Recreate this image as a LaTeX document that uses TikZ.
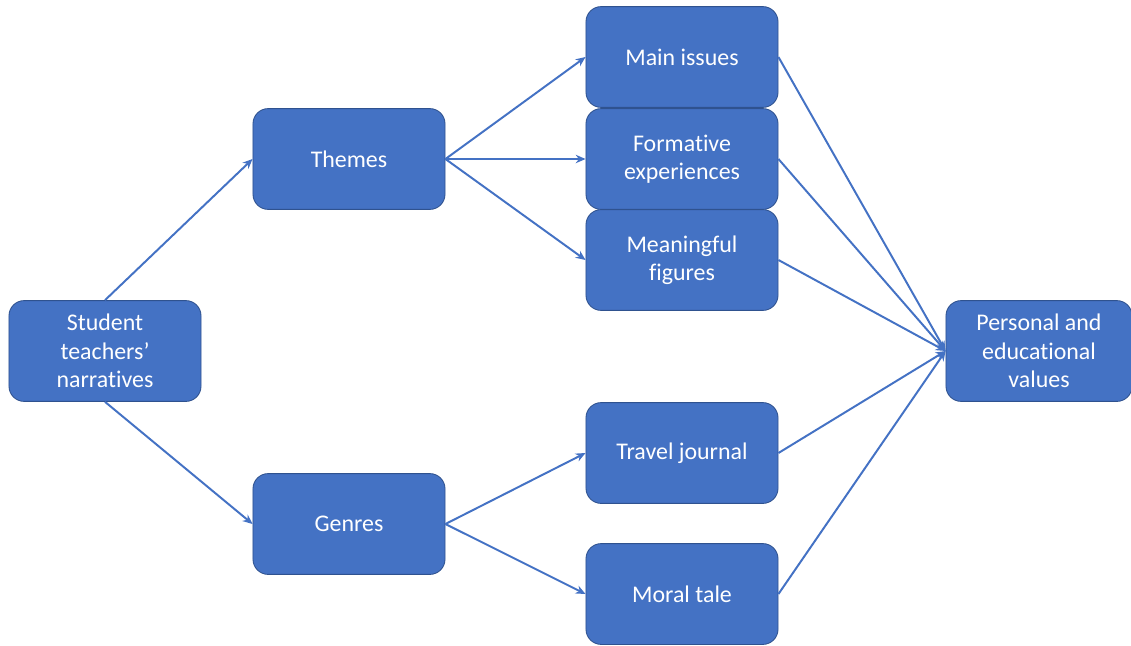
\documentclass[tikz,border=0pt]{standalone}
\usepackage{fontspec}
\setmainfont{Carlito}[RawFeature={-liga}]
\usetikzlibrary{arrows.meta}
\definecolor{boxfill}{HTML}{4472C4}
\definecolor{boxline}{HTML}{2F528F}
\definecolor{linkcol}{HTML}{4472C4}
\begin{document}
\begin{tikzpicture}[x=0.025cm,y=-0.025cm,
  box/.style={draw=boxline, line width=0.6pt, fill=boxfill, rounded corners=0.38cm,
    minimum width=4.8cm, minimum height=2.52cm, align=center, text=white,
    font=\fontsize{17}{20.2}\selectfont, inner sep=2pt},
  link/.style={draw=linkcol, line width=1.4pt, -{Stealth[length=7pt,width=6pt]}}]
\useasboundingbox (0,0) rectangle (1131,645);
% left column
\node[box] (st) at (105,351) {Student\\teachers’\\narratives};
% middle column
\node[box] (th) at (349,159) {Themes};
\node[box] (ge) at (349,524) {Genres};
% right column
\node[box] (mi) at (682,57) {Main issues};
\node[box] (fe) at (682,159) {Formative\\experiences};
\node[box] (mf) at (682,260) {Meaningful\\figures};
\node[box] (tj) at (682,453) {Travel journal};
\node[box] (mt) at (682,594) {Moral tale};
% outcome
\node[box, minimum width=4.65cm] (pv) at (1039,351) {Personal and\\educational\\values};
% connectors
\draw[link] (st.north) -- (th.west);
\draw[link] (st.south) -- (ge.west);
\draw[link] (th.east) -- (mi.west);
\draw[link] (th.east) -- (fe.west);
\draw[link] (th.east) -- (mf.west);
\draw[link] (ge.east) -- (tj.west);
\draw[link] (ge.east) -- (mt.west);
\foreach \n in {mi,fe,mf,tj,mt}
  \draw[link] (\n.east) -- (pv.west);
\end{tikzpicture}
\end{document}
